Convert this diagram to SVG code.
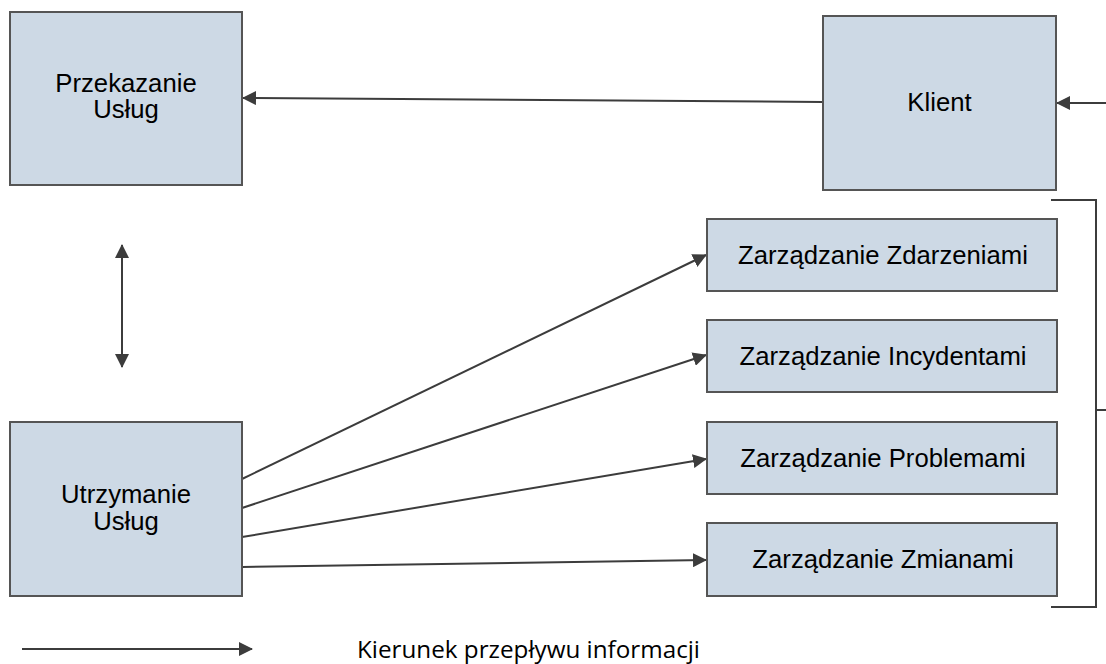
<svg xmlns="http://www.w3.org/2000/svg" width="1106" height="664" viewBox="0 0 1106 664">
  <style>
    .box { fill: #cdd9e5; stroke: #555555; stroke-width: 2; }
    .lbl { font-family: "Liberation Sans", Arial, sans-serif; font-size: 25.7px; fill: #000000; text-anchor: middle; }
    .wire { fill: none; stroke: #3c3c3c; stroke-width: 2; }
    .legend { font-family: "Open Sans", "Liberation Sans", sans-serif; font-size: 24px; fill: #000000; }
  </style>
  <defs>
    <marker id="head" viewBox="0 0 14 14" refX="13" refY="7" markerWidth="14" markerHeight="14" markerUnits="userSpaceOnUse" orient="auto-start-reverse">
      <path d="M0,0 L14,7 L0,14 Z" fill="#3c3c3c"/>
    </marker>
  </defs>

  <rect width="1106" height="664" fill="#ffffff"/>

  <g id="connectors">
    <!-- Klient -> Przekazanie Usług -->
    <line class="wire" x1="823" y1="102" x2="243" y2="98" marker-end="url(#head)"/>
    <!-- incoming from the right edge -->
    <line class="wire" x1="1106" y1="103" x2="1057" y2="103" marker-end="url(#head)"/>
    <!-- two-way link between the service blocks -->
    <line class="wire" x1="122" y1="245" x2="122" y2="367" marker-start="url(#head)" marker-end="url(#head)"/>
    <!-- Utrzymanie Usług -> management processes -->
    <line class="wire" x1="242" y1="479" x2="706" y2="255" marker-end="url(#head)"/>
    <line class="wire" x1="242" y1="508" x2="706" y2="355" marker-end="url(#head)"/>
    <line class="wire" x1="242" y1="537" x2="706" y2="459" marker-end="url(#head)"/>
    <line class="wire" x1="242" y1="567" x2="706" y2="560" marker-end="url(#head)"/>
    <!-- bracket grouping the processes -->
    <path class="wire" d="M1051,200 H1096 V607 H1051 M1096,410 H1106"/>
    <!-- legend arrow -->
    <line class="wire" x1="22" y1="649" x2="252" y2="649" marker-end="url(#head)"/>
  </g>

  <g id="przekazanie">
    <rect class="box" x="10" y="12" width="232" height="173"/>
    <text class="lbl" x="126" y="92">Przekazanie</text>
    <text class="lbl" x="126" y="118">Usług</text>
  </g>

  <g id="klient">
    <rect class="box" x="823" y="16" width="233" height="174"/>
    <text class="lbl" x="939.5" y="111">Klient</text>
  </g>

  <g id="utrzymanie">
    <rect class="box" x="10" y="422" width="232" height="174"/>
    <text class="lbl" x="126" y="503">Utrzymanie</text>
    <text class="lbl" x="126" y="530">Usług</text>
  </g>

  <g id="zdarzenia">
    <rect class="box" x="707" y="219" width="350" height="72"/>
    <text class="lbl" x="883" y="264">Zarządzanie Zdarzeniami</text>
  </g>

  <g id="incydenty">
    <rect class="box" x="707" y="320" width="350" height="72"/>
    <text class="lbl" x="883" y="365">Zarządzanie Incydentami</text>
  </g>

  <g id="problemy">
    <rect class="box" x="707" y="422" width="350" height="72"/>
    <text class="lbl" x="883" y="467">Zarządzanie Problemami</text>
  </g>

  <g id="zmiany">
    <rect class="box" x="707" y="523" width="350" height="73"/>
    <text class="lbl" x="883" y="568">Zarządzanie Zmianami</text>
  </g>

  <g id="legenda">
    <text class="legend" x="357" y="658" textLength="343" lengthAdjust="spacingAndGlyphs">Kierunek przepływu informacji</text>
  </g>
</svg>
